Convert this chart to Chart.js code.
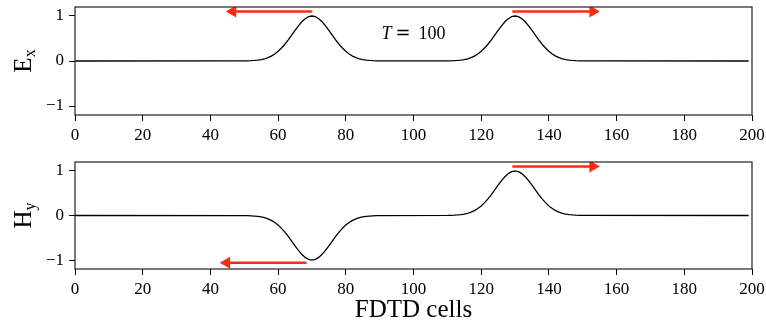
<!DOCTYPE html>
<html>
<head>
<meta charset="utf-8">
<script src="https://cdn.jsdelivr.net/npm/chart.js@4/dist/chart.umd.min.js"></script>
<style>
  body { margin: 0; background: #fff; }
  #wrap { position: relative; width: 766px; height: 327px; }
  #wrap canvas { position: absolute; left: 0; }
</style>
</head>
<body>
<div id="wrap">
  <canvas id="chartEx" width="766" height="150" style="top:0;width:766px;height:150px"></canvas>
  <canvas id="chartHy" width="766" height="177" style="top:150px;width:766px;height:177px"></canvas>
</div>
<script>
// grid cells where the field is sampled
var cells = [0,
  50,51,52,53,54,55,56,57,58,59,60,61,62,63,64,65,66,67,68,69,70,
  71,72,73,74,75,76,77,78,79,80,81,82,83,84,85,86,87,88,89,90,
  110,111,112,113,114,115,116,117,118,119,120,121,122,123,124,125,126,127,128,129,130,
  131,132,133,134,135,136,137,138,139,140,141,142,143,144,145,146,147,148,149,150,
  199];

// electric field, both pulses positive
var exValues = [0,
  0.002,0.004,0.007,0.012,0.019,0.031,0.049,0.074,0.109,0.155,0.215,0.288,0.373,0.470,0.575,0.681,0.782,0.871,0.940,0.985,1.000,
  0.985,0.940,0.871,0.782,0.681,0.575,0.470,0.373,0.288,0.215,0.155,0.109,0.074,0.049,0.031,0.019,0.012,0.007,0.004,0.002,
  0.002,0.004,0.007,0.012,0.019,0.031,0.049,0.074,0.109,0.155,0.215,0.288,0.373,0.470,0.575,0.681,0.782,0.871,0.940,0.985,1.000,
  0.985,0.940,0.871,0.782,0.681,0.575,0.470,0.373,0.288,0.215,0.155,0.109,0.074,0.049,0.031,0.019,0.012,0.007,0.004,0.002,
  0];

// magnetic field, left pulse inverted
var hyValues = [0,
  -0.002,-0.004,-0.007,-0.012,-0.019,-0.031,-0.049,-0.074,-0.109,-0.155,-0.215,-0.288,-0.373,-0.470,-0.575,-0.681,-0.782,-0.871,-0.940,-0.985,-1.000,
  -0.985,-0.940,-0.871,-0.782,-0.681,-0.575,-0.470,-0.373,-0.288,-0.215,-0.155,-0.109,-0.074,-0.049,-0.031,-0.019,-0.012,-0.007,-0.004,-0.002,
  0.002,0.004,0.007,0.012,0.019,0.031,0.049,0.074,0.109,0.155,0.215,0.288,0.373,0.470,0.575,0.681,0.782,0.871,0.940,0.985,1.000,
  0.985,0.940,0.871,0.782,0.681,0.575,0.470,0.373,0.288,0.215,0.155,0.109,0.074,0.049,0.031,0.019,0.012,0.007,0.004,0.002,
  0];

var xTicks = [0, 20, 40, 60, 80, 100, 120, 140, 160, 180, 200];
var yTicks = [-1, 0, 1];

// propagation arrows: [tail cell, head cell, level]
var exArrows = [[70.1, 46.6, 1.10], [129.2, 153.0, 1.10]];
var hyArrows = [[68.4, 44.8, -1.06], [129.2, 153.0, 1.10]];

var timeLabel = {x: 100, y: 0.49, text: '100'};

var serif = '"Liberation Serif", "Times New Roman", serif';
var arrowColor = '#ff2a12';

function arrowSets(arrows) {
  return arrows.map(function(a) {
    var right = a[1] > a[0];
    return {
      data: [{x: a[0], y: a[2]}, {x: a[1], y: a[2]}],
      borderColor: arrowColor,
      backgroundColor: arrowColor,
      borderWidth: 2.6,
      pointRadius: [0, 7],
      pointStyle: 'triangle',
      rotation: right ? 90 : -90,
      pointBorderWidth: 0,
      tension: 0
    };
  });
}

// frame, rotated axis label with subscript, extra texts
var decor = {
  id: 'decor',
  afterDraw: function(chart, args, opts) {
    var ctx = chart.ctx, a = chart.chartArea;
    ctx.save();
    ctx.strokeStyle = '#222';
    ctx.lineWidth = 1.2;
    ctx.strokeRect(a.left, a.top, a.right - a.left, a.bottom - a.top);

    ctx.fillStyle = '#000';
    ctx.textAlign = 'left';
    ctx.textBaseline = 'alphabetic';

    ctx.save();
    ctx.translate(opts.labelX, (a.top + a.bottom) / 2);
    ctx.rotate(-Math.PI / 2);
    ctx.font = '25px ' + serif;
    var w1 = ctx.measureText(opts.main).width;
    ctx.font = '16px ' + serif;
    var w2 = ctx.measureText(opts.sub).width;
    var x0 = -(w1 + w2) / 2;
    ctx.font = '25px ' + serif;
    ctx.fillText(opts.main, x0, 0);
    ctx.font = '16px ' + serif;
    ctx.fillText(opts.sub, x0 + w1, 4);
    ctx.restore();

    if (opts.showTime) {
      var px = chart.scales.x.getPixelForValue(timeLabel.x);
      var py = chart.scales.y.getPixelForValue(timeLabel.y);
      ctx.font = 'italic 18px ' + serif;
      ctx.fillText('T', px - 32, py);
      ctx.font = '18px "DejaVu Serif", serif';
      ctx.fillText('=', px - 18, py);
      ctx.font = '18px ' + serif;
      ctx.fillText(timeLabel.text, px + 5, py);
    }
    if (opts.xTitle) {
      ctx.font = '25px ' + serif;
      ctx.textAlign = 'center';
      ctx.fillText(opts.xTitle, (a.left + a.right) / 2, chart.height - 10);
    }
    ctx.restore();
  }
};

function makeChart(id, values, arrows, padTop, xHeight, extra) {
  var ctx = document.getElementById(id).getContext('2d');
  var sets = [{
    data: cells.map(function(c, i) { return {x: c, y: values[i]}; }),
    borderColor: '#000',
    borderWidth: 1.3,
    pointRadius: 0,
    tension: 0
  }].concat(arrowSets(arrows));

  return new Chart(ctx, {
    type: 'line',
    data: {datasets: sets},
    options: {
      responsive: false,
      animation: false,
      layout: {padding: {top: padTop, right: 14, left: 0, bottom: 0}},
      plugins: {
        legend: {display: false},
        tooltip: {enabled: false},
        decor: extra
      },
      scales: {
        x: {
          type: 'linear',
          min: 0,
          max: 200,
          afterBuildTicks: function(s) { s.ticks = xTicks.map(function(v) { return {value: v}; }); },
          afterFit: function(s) { s.height = xHeight; s.paddingLeft = 0; s.paddingRight = 0; },
          grid: {drawOnChartArea: false, tickLength: 6, color: '#000', tickWidth: 1},
          border: {display: false},
          ticks: {color: '#000', padding: 4, maxRotation: 0, font: {family: serif, size: 17}}
        },
        y: {
          min: -1.2,
          max: 1.2,
          afterBuildTicks: function(s) { s.ticks = yTicks.map(function(v) { return {value: v}; }); },
          afterFit: function(s) { s.width = 75; s.paddingTop = 0; s.paddingBottom = 0; },
          grid: {drawOnChartArea: false, tickLength: 6, color: '#000', tickWidth: 1},
          border: {display: false},
          ticks: {
            color: '#000', padding: 5, font: {family: serif, size: 17},
            callback: function(v) { return v < 0 ? '\u2212' + Math.abs(v) : String(v); }
          }
        }
      }
    },
    plugins: [decor]
  });
}

makeChart('chartEx', exValues, exArrows, 7, 35, {labelX: 31, main: 'E', sub: 'x', showTime: true});
makeChart('chartHy', hyValues, hyArrows, 12, 58, {labelX: 31, main: 'H', sub: 'y', xTitle: 'FDTD cells'});
</script>
</body>
</html>
